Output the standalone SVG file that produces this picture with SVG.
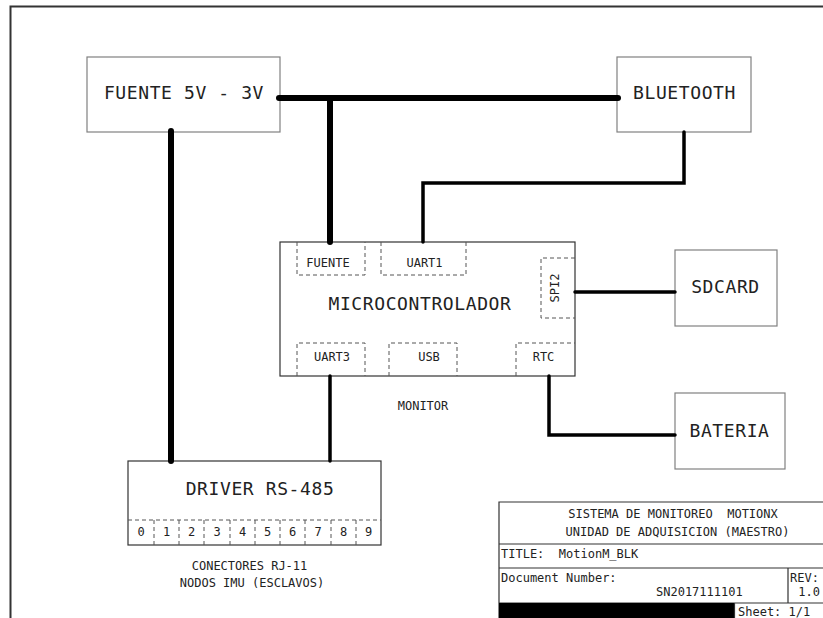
<svg xmlns="http://www.w3.org/2000/svg" width="823" height="618" viewBox="0 0 823 618">
<style>
.bg{fill:#fff}
.frame{fill:none;stroke:#333;stroke-width:2}
.box{fill:#fff;stroke:#808080;stroke-width:1.2}
.mbox{fill:#fff;stroke:#333;stroke-width:1.2}
.dash{fill:none;stroke:#555;stroke-width:1;stroke-dasharray:4,3}
.pw{fill:none;stroke:#000;stroke-width:6;stroke-linecap:round;stroke-linejoin:round}
.sig{fill:none;stroke:#000;stroke-width:3.5;stroke-linecap:round;stroke-linejoin:miter}
.tl{fill:none;stroke:#333;stroke-width:1.2}
text{font-family:"DejaVu Sans Mono","Liberation Mono",monospace;fill:#222}
.big{font-size:18px;letter-spacing:0.6px;text-anchor:middle}
.sm{font-size:12px;text-anchor:middle}
.sml{font-size:12px}
</style>
<rect class="bg" x="0" y="0" width="823" height="618"/>
<path class="frame" d="M10.5,618 V6.5 H823"/>

<g id="fuente">
  <rect class="box" x="87" y="57" width="193" height="75"/>
  <text class="big" x="184" y="99">FUENTE 5V - 3V</text>
</g>

<g id="bluetooth">
  <rect class="box" x="617" y="57" width="134" height="75"/>
  <text class="big" x="684.5" y="99">BLUETOOTH</text>
</g>

<g id="microcontrolador">
  <rect class="mbox" x="280" y="242" width="295" height="134"/>
  <text class="big" x="420" y="310">MICROCONTROLADOR</text>
  <g id="port-fuente">
    <path class="dash" d="M297,242 V275 H365 V242"/>
    <text class="sm" x="328" y="267">FUENTE</text>
  </g>
  <g id="port-uart1">
    <path class="dash" d="M381,242 V275 H466 V242"/>
    <text class="sm" x="424.5" y="267">UART1</text>
  </g>
  <g id="port-spi2">
    <path class="dash" d="M575,258 H541 V318 H575"/>
    <text class="sm" transform="translate(559,288) rotate(-90)">SPI2</text>
  </g>
  <g id="port-uart3">
    <path class="dash" d="M297,376 V343 H365 V376"/>
    <text class="sm" x="332" y="361">UART3</text>
  </g>
  <g id="port-usb">
    <path class="dash" d="M389,376 V343 H457 V376"/>
    <text class="sm" x="429" y="361">USB</text>
  </g>
  <g id="port-rtc">
    <path class="dash" d="M516,376 V343 H575"/>
    <text class="sm" x="543.5" y="361">RTC</text>
  </g>
</g>

<g id="monitor-label">
  <text class="sm" x="423" y="410">MONITOR</text>
</g>

<g id="sdcard">
  <rect class="box" x="675" y="250" width="102" height="76"/>
  <text class="big" x="725.5" y="293">SDCARD</text>
</g>

<g id="bateria">
  <rect class="box" x="675" y="393" width="110" height="76"/>
  <text class="big" x="729.5" y="437">BATERIA</text>
</g>

<g id="driver">
  <rect class="mbox" x="128" y="461" width="253" height="84"/>
  <text class="big" x="260" y="495">DRIVER RS-485</text>
  <path class="dash" d="M128,520 H381 M154,520 V545 M179,520 V545 M204,520 V545 M230,520 V545 M255,520 V545 M280,520 V545 M305,520 V545 M331,520 V545 M356,520 V545"/>
  <text class="sm" x="141" y="536">0</text>
  <text class="sm" x="166.5" y="536">1</text>
  <text class="sm" x="191.5" y="536">2</text>
  <text class="sm" x="217" y="536">3</text>
  <text class="sm" x="242.5" y="536">4</text>
  <text class="sm" x="267.5" y="536">5</text>
  <text class="sm" x="292.5" y="536">6</text>
  <text class="sm" x="318" y="536">7</text>
  <text class="sm" x="343.5" y="536">8</text>
  <text class="sm" x="368.5" y="536">9</text>
  <text class="sm" x="249.5" y="570">CONECTORES RJ-11</text>
  <text class="sm" x="252" y="587">NODOS IMU (ESCLAVOS)</text>
</g>

<g id="connectors">
  <path class="pw" d="M279,98 H618"/>
  <path class="pw" d="M330,98 V242"/>
  <path class="pw" d="M171,131 V461"/>
  <path class="sig" d="M684,132 V183 H423 V242"/>
  <path class="sig" d="M330,376 V461"/>
  <path class="sig" d="M575,292 H675"/>
  <path class="sig" d="M549,376 V435 H675"/>
</g>

<g id="title-block">
  <path class="tl" d="M499,618 V502 H823 M499,544 H823 M499,568 H823 M499,603 H823 M788,568 V603"/>
  <rect x="499" y="603" width="235" height="15" fill="#000"/>
  <path class="tl" d="M734.5,603 V618"/>
  <text class="sm" x="673" y="518" xml:space="preserve">SISTEMA DE MONITOREO  MOTIONX</text>
  <text class="sm" x="677.5" y="536">UNIDAD DE ADQUISICION (MAESTRO)</text>
  <text class="sml" x="501" y="558" xml:space="preserve">TITLE:  MotionM_BLK</text>
  <text class="sml" x="501" y="582">Document Number:</text>
  <text class="sml" x="656" y="596">SN2017111101</text>
  <text class="sml" x="790" y="582">REV:</text>
  <text class="sml" x="820" y="596" text-anchor="end">1.0</text>
  <text class="sml" x="738" y="616">Sheet: 1/1</text>
</g>
</svg>
